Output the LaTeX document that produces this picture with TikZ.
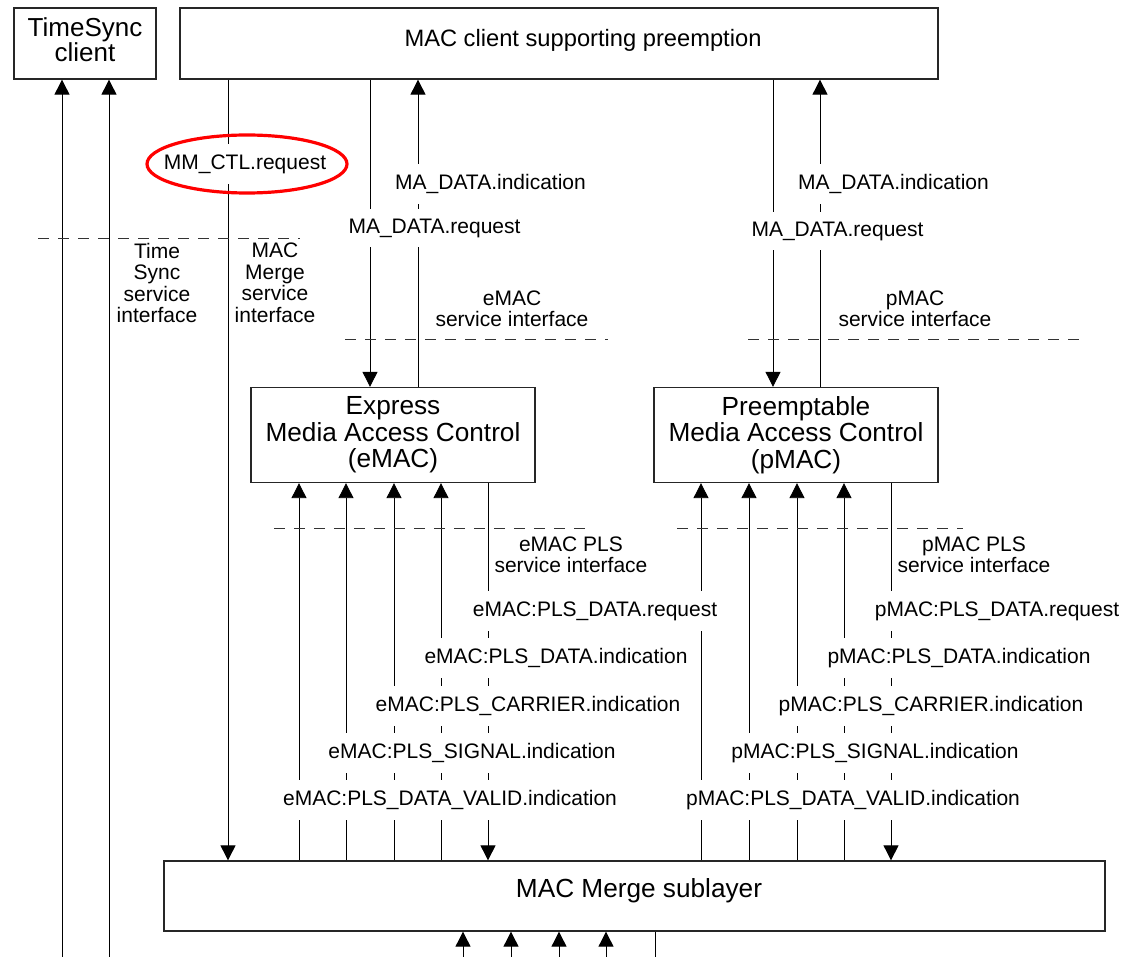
\documentclass[tikz,border=0pt]{standalone}
\usepackage{fontspec}
\setmainfont{Liberation Sans}
\usetikzlibrary{arrows.meta}

\begin{document}
\begin{tikzpicture}[
  x=1pt, y=-1pt,
  box/.style={draw=black!85, line width=1.3pt, inner sep=0pt, align=center,
    font=\fontsize{26.2}{26.5}\selectfont},
  lbl/.style={fill=white, inner xsep=2pt, inner ysep=10pt,
    font=\fontsize{21}{22}\selectfont},
  note/.style={align=center, inner sep=0pt, font=\fontsize{21}{21.5}\selectfont},
  sif/.style={black!80, line width=0.8pt, dash pattern=on 11pt off 9pt},
  sig/.style={line width=0.9pt},
  up/.style={sig, -{Triangle[length=15pt,width=15pt]}},
  dn/.style={sig, -{Triangle[length=15pt,width=15pt]}}
]
  \useasboundingbox (0,0) rectangle (1126,957);

  \node[box, minimum width=142pt, minimum height=71pt, font=\fontsize{26}{25}\selectfont,
    text depth=8pt] (tsc) at (85,43.5) {TimeSync\\client};
  \node[box, minimum width=758pt, minimum height=71pt] (mcl) at (559,43.5) {};
  \node[font=\fontsize{23.7}{26}\selectfont, inner sep=0pt] (mcltxt) at (583,40) {MAC client supporting preemption};
  \node[box, minimum width=284pt, minimum height=95pt] (emac) at (393,435) {Express\\Media Access Control\\(eMAC)};
  \node[box, minimum width=284pt, minimum height=95pt] (pmac) at (796,435) {Preemptable\\Media Access Control\\(pMAC)};
  \node[box, minimum width=941pt, minimum height=70pt] (merge) at (634.5,896) {};
  \node[font=\fontsize{26.2}{26}\selectfont, inner sep=0pt] (mergetxt) at (639,891) {MAC Merge sublayer};

  \coordinate (bottom) at (0,957);

  \foreach \x in {62,109}
    \draw[up] (bottom -| \x,0) -- (tsc.south -| \x,0);
  \draw[dn] (mcl.south -| 228,0) -- (merge.north -| 228,0);

  \draw[dn] (mcl.south -| 370,0) -- (emac.north -| 370,0);
  \draw[up] (emac.north -| 418,0) -- (mcl.south -| 418,0);
  \draw[dn] (mcl.south -| 773,0) -- (pmac.north -| 773,0);
  \draw[up] (pmac.north -| 820,0) -- (mcl.south -| 820,0);

  \foreach \x in {299,346,394,441}
    \draw[up] (merge.north -| \x,0) -- (emac.south -| \x,0);
  \draw[dn] (emac.south -| 488,0) -- (merge.north -| 488,0);
  \foreach \x in {701,749,797,844}
    \draw[up] (merge.north -| \x,0) -- (pmac.south -| \x,0);
  \draw[dn] (pmac.south -| 891,0) -- (merge.north -| 891,0);

  \foreach \x in {463,511,559,606}
    \draw[up] (bottom -| \x,0) -- (merge.south -| \x,0);
  \draw[sig] (merge.south -| 655,0) -- (bottom -| 655,0);

  \draw[sif] (38,238) -- (300,238);
  \draw[sif] (345,339) -- (608,339);
  \draw[sif] (748,339) -- (1082,339);
  \draw[sif] (274,528) -- (585,528);
  \draw[sif] (677,528) -- (963,528);

  \node[lbl] (mmctl) at (245,164) {MM\_CTL.request};
  \draw[red, line width=3.2pt] (247,164) ellipse [x radius=100pt, y radius=29pt];

  \node[lbl] (eind) at (490.5,184) {MA\_DATA.indication};
  \node[lbl] (ereq) at (434.5,228) {MA\_DATA.request};
  \node[lbl] (pind) at (893.5,184) {MA\_DATA.indication};
  \node[lbl] (preq) at (837.5,231) {MA\_DATA.request};

  \node[note] (tssi) at (157,283) {Time\\Sync\\service\\interface};
  \node[note] (mmsi) at (275,283) {MAC\\Merge\\service\\interface};
  \node[note] (esi) at (512,309) {eMAC\\service interface};
  \node[note] (psi) at (915,309) {pMAC\\service interface};
  \node[note] (eplssi) at (571,555) {eMAC PLS\\service interface};
  \node[note] (pplssi) at (974,555) {pMAC PLS\\service interface};

  \node[lbl] (ep1) at (595,611) {eMAC:PLS\_DATA.request};
  \node[lbl] (ep2) at (556,658) {eMAC:PLS\_DATA.indication};
  \node[lbl] (ep3) at (528,706) {eMAC:PLS\_CARRIER.indication};
  \node[lbl] (ep4) at (472,753) {eMAC:PLS\_SIGNAL.indication};
  \node[lbl] (ep5) at (450,800) {eMAC:PLS\_DATA\_VALID.indication};
  \node[lbl] (pp1) at (997,611) {pMAC:PLS\_DATA.request};
  \node[lbl] (pp2) at (959,658) {pMAC:PLS\_DATA.indication};
  \node[lbl] (pp3) at (931,706) {pMAC:PLS\_CARRIER.indication};
  \node[lbl] (pp4) at (875,753) {pMAC:PLS\_SIGNAL.indication};
  \node[lbl] (pp5) at (853,800) {pMAC:PLS\_DATA\_VALID.indication};
\end{tikzpicture}
\end{document}
